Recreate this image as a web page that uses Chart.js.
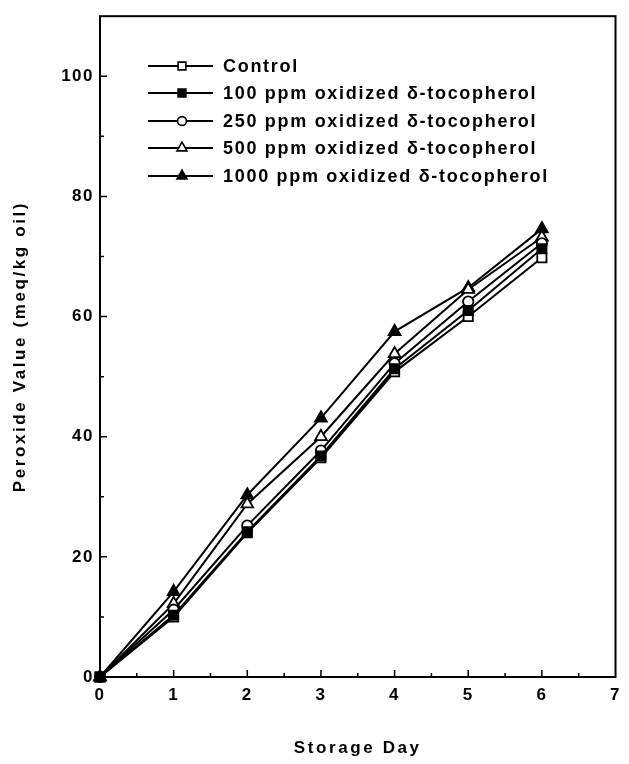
<!DOCTYPE html>
<html>
<head>
<meta charset="utf-8">
<script src="https://cdn.jsdelivr.net/npm/chart.js@4.4.1/dist/chart.umd.min.js"></script>
<style>
html,body{margin:0;padding:0;background:#fff;}
#wrap{width:629px;height:764px;position:relative;}
</style>
</head>
<body>
<div id="wrap"><canvas id="c" width="629" height="764"></canvas></div>
<script>
// ---- data ----
const days = [0, 1, 2, 3, 4, 5, 6];
const control = [0, 10.0, 24.0, 36.5, 50.8, 60.0, 69.8];
const ppm100 = [0, 10.3, 24.2, 36.8, 51.3, 61.0, 71.3];
const ppm250 = [0, 11.2, 25.2, 37.7, 52.2, 62.5, 72.2];
const ppm500 = [0, 12.2, 28.8, 40.0, 53.8, 64.5, 73.2];
const ppm1000 = [0, 14.2, 30.3, 43.1, 57.5, 64.8, 74.6];
const seriesNames = ['Control', '100 ppm oxidized δ-tocopherol', '250 ppm oxidized δ-tocopherol', '500 ppm oxidized δ-tocopherol', '1000 ppm oxidized δ-tocopherol'];
const xTickLabels = ['0', '1', '2', '3', '4', '5', '6', '7'];
const yTickLabels = ['0', '20', '40', '60', '80', '100'];
const xTitle = 'Storage Day';
const yTitle = 'Peroxide Value (meq/kg oil)';

const FONT = '"Liberation Sans", Arial, Helvetica, sans-serif';
const styles = [
  {pointStyle: 'rect', fill: '#fff', r: 6.5},
  {pointStyle: 'rect', fill: '#000', r: 6.5},
  {pointStyle: 'circle', fill: '#fff', r: 5.2},
  {pointStyle: 'triangle', fill: '#fff', r: 6.8},
  {pointStyle: 'triangle', fill: '#000', r: 6.8}
];
const allSeries = [control, ppm100, ppm250, ppm500, ppm1000];

const datasets = allSeries.map((vals, i) => ({
  label: seriesNames[i],
  data: days.map((d, j) => ({x: d, y: vals[j]})),
  borderColor: '#000',
  borderWidth: 2,
  backgroundColor: styles[i].fill,
  pointStyle: styles[i].pointStyle,
  pointRadius: styles[i].r,
  pointBackgroundColor: styles[i].fill,
  pointBorderColor: '#000',
  pointBorderWidth: 1.8,
  tension: 0,
  clip: false,
  order: i === 1 ? -1 : i
}));

function marker(ctx, style, x, y, r, fill) {
  ctx.save();
  ctx.fillStyle = fill;
  ctx.strokeStyle = '#000';
  ctx.lineWidth = 1.6;
  ctx.beginPath();
  if (style === 'rect') {
    const s = Math.SQRT1_2 * r;
    ctx.rect(x - s, y - s, 2 * s, 2 * s);
  } else if (style === 'circle') {
    ctx.arc(x, y, r, 0, Math.PI * 2);
  } else {
    let a = 0;
    ctx.moveTo(x + Math.sin(a) * r, y - Math.cos(a) * r);
    a += 2 * Math.PI / 3;
    ctx.lineTo(x + Math.sin(a) * r, y - Math.cos(a) * r);
    a += 2 * Math.PI / 3;
    ctx.lineTo(x + Math.sin(a) * r, y - Math.cos(a) * r);
    ctx.closePath();
  }
  ctx.fill();
  ctx.stroke();
  ctx.restore();
}

const decor = {
  id: 'decor',
  beforeLayout(chart) { chart.ctx.letterSpacing = '1.5px'; },
  beforeDraw(chart) { chart.ctx.letterSpacing = '1.5px'; },
  afterDraw(chart) {
    const ctx = chart.ctx;
    const a = chart.chartArea;
    const xs = chart.scales.x, ys = chart.scales.y;
    ctx.save();
    ctx.strokeStyle = '#000';
    ctx.lineWidth = 2;
    ctx.strokeRect(a.left, a.top, a.right - a.left, a.bottom - a.top);
    // y ticks (inward)
    ctx.lineWidth = 1.5;
    ctx.beginPath();
    for (let v = 10; v < 110; v += 10) {
      const py = ys.getPixelForValue(v);
      const len = (v % 20 === 0) ? 7 : 4;
      ctx.moveTo(a.left, py); ctx.lineTo(a.left + len, py);
    }
    for (let v = 0.5; v < 7; v += 0.5) {
      const px = xs.getPixelForValue(v);
      const len = (Math.abs(v - Math.round(v)) < 1e-6) ? 7 : 4;
      ctx.moveTo(px, a.bottom); ctx.lineTo(px, a.bottom - len);
    }
    ctx.stroke();
    // titles
    ctx.fillStyle = '#000';
    ctx.letterSpacing = '2.6px';
    ctx.font = 'bold 17px ' + FONT;
    ctx.textAlign = 'center';
    ctx.textBaseline = 'middle';
    ctx.fillText(xTitle, (a.left + a.right) / 2, 748);
    ctx.save();
    ctx.translate(20, (a.top + a.bottom) / 2);
    ctx.rotate(-Math.PI / 2);
    ctx.fillText(yTitle, 0, 0);
    ctx.restore();
    // legend
    ctx.letterSpacing = '1.7px';
    ctx.font = 'bold 18px ' + FONT;
    ctx.textAlign = 'left';
    const rows = [66, 93, 121, 148, 176];
    rows.forEach((ry, i) => {
      ctx.lineWidth = 2;
      ctx.beginPath();
      ctx.moveTo(148, ry); ctx.lineTo(213, ry);
      ctx.stroke();
      marker(ctx, styles[i].pointStyle, 182, ry, styles[i].r * 0.85, styles[i].fill);
      ctx.fillStyle = '#000';
      ctx.fillText(seriesNames[i], 223, ry + 1);
    });
    ctx.restore();
  }
};

new Chart(document.getElementById('c'), {
  type: 'line',
  data: {datasets},
  options: {
    responsive: false,
    animation: false,
    devicePixelRatio: 1,
    layout: {padding: {left: 0, top: 8, right: 12, bottom: 0}},
    plugins: {legend: {display: false}, tooltip: {enabled: false}},
    scales: {
      x: {
        type: 'linear', min: 0, max: 7,
        grid: {display: false, drawTicks: false},
        border: {display: false},
        ticks: {stepSize: 1, padding: 8, color: '#000', font: {size: 17, family: FONT, weight: 'bold'},
          callback: (v) => xTickLabels[v] !== undefined ? xTickLabels[v] : ''},
        afterFit(s) { s.height = 87; }
      },
      y: {
        type: 'linear', min: 0, max: 110,
        grid: {display: false, drawTicks: false},
        border: {display: false},
        ticks: {stepSize: 20, includeBounds: false, padding: 6, color: '#000', font: {size: 17, family: FONT, weight: 'bold'},
          callback: (v) => yTickLabels[v / 20] !== undefined ? yTickLabels[v / 20] : ''},
        afterFit(s) { s.width = 100; }
      }
    }
  },
  plugins: [decor]
});
</script>
</body>
</html>
